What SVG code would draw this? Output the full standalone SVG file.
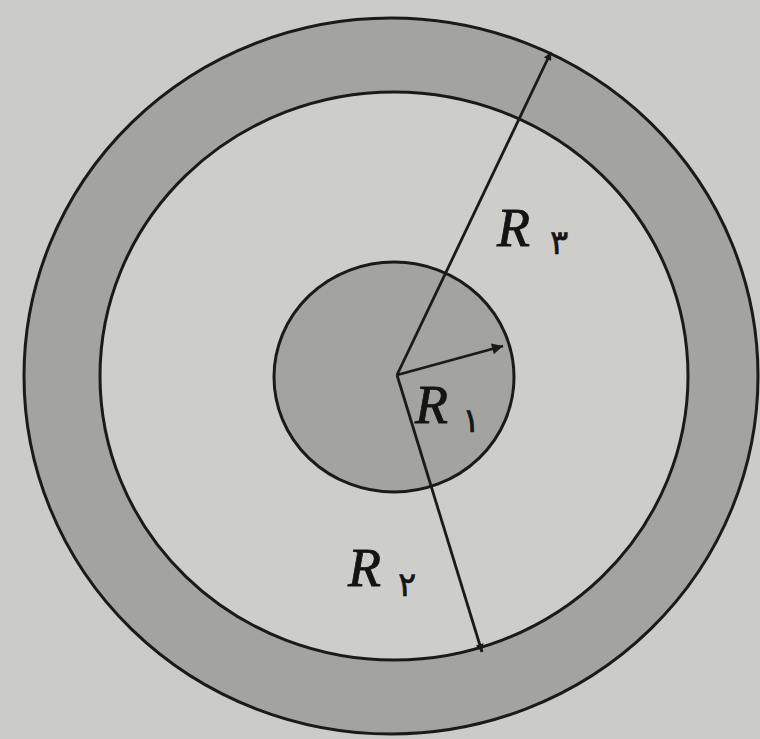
<svg xmlns="http://www.w3.org/2000/svg" width="760" height="739" viewBox="0 0 760 739">
<style>
.ln{stroke:#1a1a1a;stroke-width:2.8;fill:none}
.ring{fill:#a3a39f;stroke:#1a1a1a;stroke-width:3}
.lbl{font-family:"Liberation Serif",serif;font-style:italic;font-size:54px;fill:#141414;stroke:#141414;stroke-width:0.8}
.sub{font-family:"DejaVu Sans",sans-serif;font-size:34px;fill:#141414;stroke:#141414;stroke-width:0.6}
</style>
<defs>
<marker id="ah" viewBox="0 0 10 10" refX="10" refY="5" markerWidth="18" markerHeight="8" markerUnits="userSpaceOnUse" orient="auto">
<path d="M0,0 L10,5 L0,10 z" fill="#1a1a1a"/>
</marker>
<marker id="ahb" viewBox="0 0 10 10" refX="10" refY="5" markerWidth="24" markerHeight="11" markerUnits="userSpaceOnUse" orient="auto">
<path d="M0,0 L10,5 L0,10 z" fill="#1a1a1a"/>
</marker>
</defs>
<rect width="760" height="739" fill="#cbcbc7"/>
<g id="outer-ring">
<ellipse cx="391" cy="376" rx="367" ry="358" class="ring"/>
<ellipse cx="394" cy="376" rx="294" ry="284" fill="#cdcdc9" stroke="#1a1a1a" stroke-width="3"/>
</g>
<g id="inner-core">
<ellipse cx="394" cy="377" rx="120" ry="115" class="ring"/>
</g>
<g id="connectors">
<line x1="397" y1="375" x2="551" y2="52" class="ln" marker-end="url(#ah)"/>
<line x1="397" y1="375" x2="503" y2="346" class="ln" marker-end="url(#ahb)"/>
<line x1="397" y1="375" x2="482" y2="652" class="ln" marker-end="url(#ah)"/>
</g>
<g id="labels">
<text x="497" y="246" class="lbl">R</text><text x="550" y="254" class="sub">۳</text>
<text x="415" y="423" class="lbl">R</text><text x="462" y="432" class="sub">۱</text>
<text x="348" y="586" class="lbl">R</text><text x="398" y="596" class="sub">۲</text>
</g>
</svg>
